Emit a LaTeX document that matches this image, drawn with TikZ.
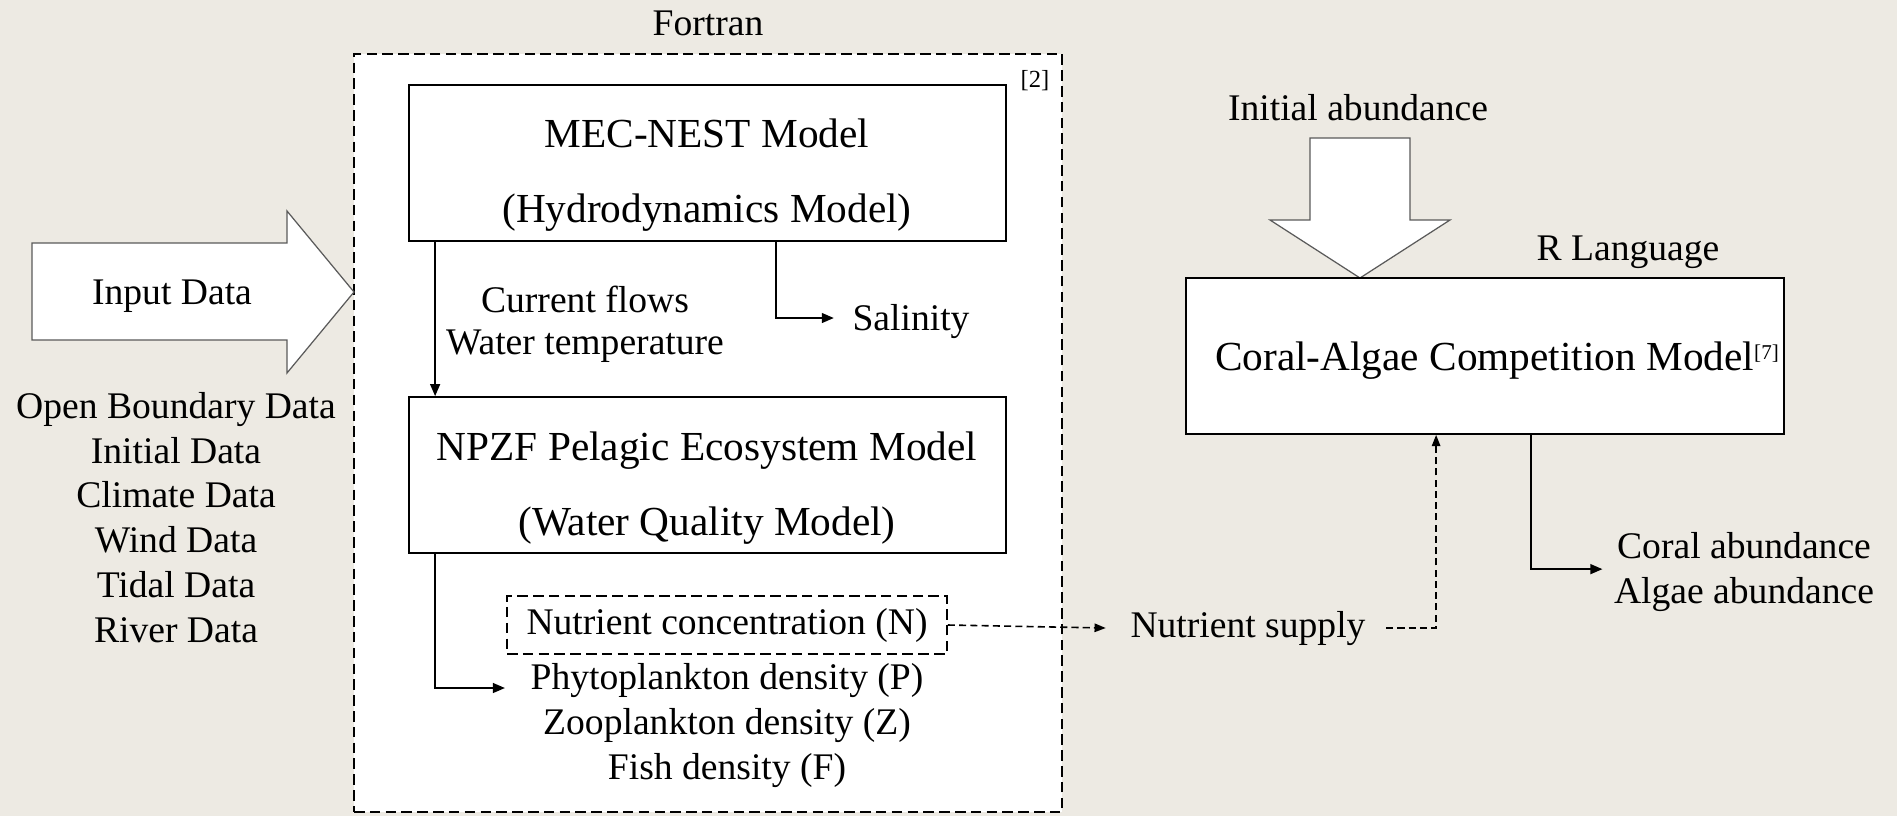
\documentclass[tikz,border=0pt]{standalone}
\usepackage{fontspec}
\setmainfont{Liberation Serif}
\usetikzlibrary{arrows.meta}
\definecolor{paper}{HTML}{EDEAE3}
\definecolor{edge}{HTML}{5A5A5A}
\tikzset{
  txt/.style={inner sep=0pt, anchor=base, font=\fontsize{10.7}{12.8}\selectfont},
  ttl/.style={txt, font=\fontsize{11.75}{14}\selectfont},
  model/.style={draw, fill=white, line width=0.5pt, inner sep=0pt, minimum width=59.7mm, minimum height=15.6mm},
  frame/.style={draw, line width=0.45pt, dash pattern=on 3pt off 1.5pt},
  flow/.style={-{Triangle[length=3.4pt,width=2.8pt]}, line width=0.45pt},
  dflow/.style={-{Triangle[length=3.2pt,width=2.4pt]}, line width=0.45pt, dash pattern=on 2pt off 1.2pt},
  blockarr/.style={draw=edge, fill=white, line width=0.35pt, line join=miter},
}

\begin{document}
\begin{tikzpicture}[x=0.1mm, y=-0.1mm]
\useasboundingbox (0,0) rectangle (1897,816);
\fill[paper] (0,0) rectangle (1897,816);

% Fortran side
\node[frame, fill=white, minimum width=70.8mm, minimum height=75.8mm] (fortran) at (708,433) {};
\node[txt] (fortranlbl) at (708,35) {Fortran};
\node[txt, font=\fontsize{7}{8}\selectfont] (ref2) at (1035,88) {[2]};

\node[model] (mec) at (707.5,163) {};
\node[ttl] (mectop) at (707,147) {MEC-NEST Model};
\node[ttl] (mecbot) at (707,222) {(Hydrodynamics Model)};

\node[model] (npzf) at (707.5,475) {};
\node[ttl] (npzftop) at (707,460) {NPZF Pelagic Ecosystem Model};
\node[ttl] (npzfbot) at (707,535) {(Water Quality Model)};

\node[txt] (curflow) at (585,312) {Current flows};
\node[txt] (wtemp) at (585,354) {Water temperature};
\node[txt] (sal) at (911,330) {Salinity};

\node[frame, inner sep=0pt, minimum width=44mm, minimum height=5.8mm, font=\fontsize{10.7}{12.8}\selectfont] (nutr) at (727,625) {Nutrient concentration (N)};
\node[txt] (phyto) at (727,689) {Phytoplankton density (P)};
\node[txt] (zoo) at (727,734) {Zooplankton density (Z)};
\node[txt] (fish) at (727,779) {Fish density (F)};

% input data
\draw[blockarr] (32,243) -- (287,243) -- (287,211) -- (354,292) -- (287,373) -- (287,340) -- (32,340) -- cycle;
\node[txt] (input) at (172,304) {Input Data};
\node[txt] (src1) at (176,418) {Open Boundary Data};
\node[txt] (src2) at (176,463) {Initial Data};
\node[txt] (src3) at (176,507) {Climate Data};
\node[txt] (src4) at (176,552) {Wind Data};
\node[txt] (src5) at (176,597) {Tidal Data};
\node[txt] (src6) at (176,642) {River Data};

% R side
\draw[blockarr] (1310,138) -- (1410,138) -- (1410,220) -- (1450,220) -- (1360,278) -- (1270,220) -- (1310,220) -- cycle;
\node[txt] (initab) at (1358,120) {Initial abundance};
\node[txt] (rlang) at (1628,260) {R Language};
\node[model, minimum width=59.8mm] (coral) at (1485,356) {};
\node[ttl] (coraltxt) at (1497,370) {Coral-Algae Competition Model\raisebox{3pt}{\fontsize{6}{7}\selectfont[7]}};

\node[txt] (nsup) at (1248,637) {Nutrient supply};
\node[txt] (coralab) at (1744,558) {Coral abundance};
\node[txt] (algaeab) at (1744,603) {Algae abundance};

% connectors
\draw[flow] ([xshift=2.7mm]mec.south west) -- ([xshift=2.7mm]npzf.north west);
\draw[flow] ([xshift=36.8mm]mec.south west) |- ([xshift=-1.8mm,yshift=0.3mm]sal.west);
\draw[flow] ([xshift=2.7mm]npzf.south west) |- ([xshift=-2.5mm,yshift=-0.8mm]phyto.west);
\draw[dflow] (nutr.east) -- ([xshift=-2.4mm]nsup.west);
\draw[dflow] ([xshift=2mm]nsup.east) -| ([xshift=25.1mm]coral.south west);
\draw[flow] ([xshift=34.6mm]coral.south west) |- ([xshift=-1.4mm,yshift=-2.4mm]coralab.west);
\end{tikzpicture}
\end{document}
